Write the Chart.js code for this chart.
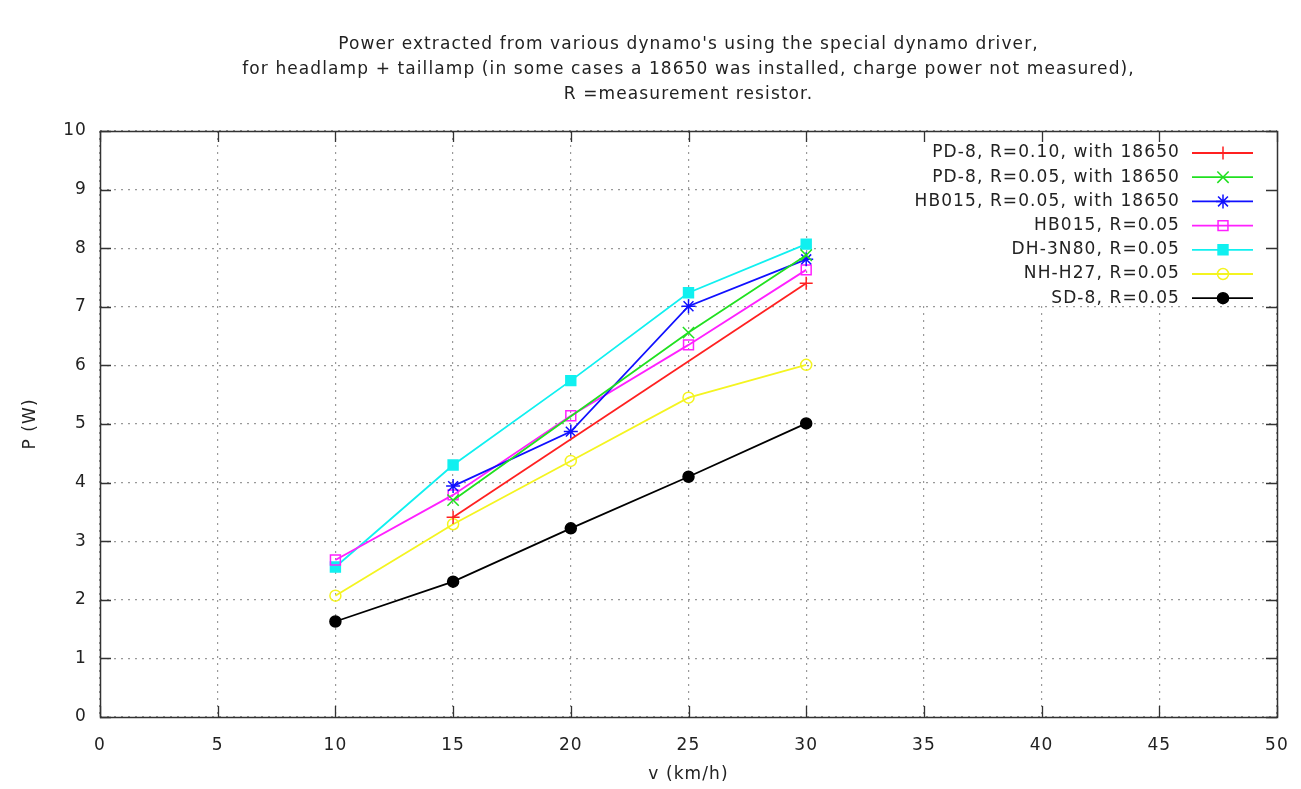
<!DOCTYPE html>
<html>
<head>
<meta charset="utf-8">
<script src="https://cdn.jsdelivr.net/npm/chart.js@4.4.0/dist/chart.umd.min.js"></script>
<style>
  html, body { margin: 0; padding: 0; background: #fff; }
  #wrap { width: 1301px; height: 789px; }
</style>
</head>
<body>
<div id="wrap"><canvas id="c" width="1301" height="789"></canvas></div>
<script>
const titleLines = [
  "Power extracted from various dynamo's using the special dynamo driver,",
  "for headlamp + taillamp (in some cases a 18650 was installed, charge power not measured),",
  "R =measurement resistor."
];
const xTitle = "v (km/h)";
const yTitle = "P (W)";
const speeds = [10, 15, 20, 25, 30];
const labels = [
  "PD-8, R=0.10, with 18650",
  "PD-8, R=0.05, with 18650",
  "HB015, R=0.05, with 18650",
  "HB015, R=0.05",
  "DH-3N80, R=0.05",
  "NH-H27, R=0.05",
  "SD-8, R=0.05"
];
const pd8_010 = [null, 3.41, null, null, 7.40];
const pd8_005 = [null, 3.70, null, 6.56, 7.88];
const hb015_bat = [null, 3.94, 4.87, 7.01, 7.81];
const hb015 = [2.68, 3.79, 5.14, 6.35, 7.63];
const dh3n80 = [2.56, 4.30, 5.74, 7.24, 8.07];
const nhh27 = [2.07, 3.29, 4.37, 5.45, 6.01];
const sd8 = [1.63, 2.31, 3.22, 4.10, 5.01];

const series = [pd8_010, pd8_005, hb015_bat, hb015, dh3n80, nhh27, sd8];
const colors = ['#ff2020', '#20e020', '#1010ff', '#ff20ff', '#10f0f0', '#f4f420', '#000000'];
const styles = ['cross', 'crossRot', 'star', 'rect', 'rect', 'circle', 'circle'];
const filled = [false, false, false, false, true, false, true];
const radii = [6.5, 8, 7, 7, 7, 5.5, 5.5];

const FONT = "'DejaVu Sans', sans-serif";
const SPACING = '1.1px';

const datasets = series.map((vals, i) => ({
  label: labels[i],
  data: speeds.map((s, j) => ({x: s, y: vals[j]})).filter(p => p.y !== null),
  borderColor: colors[i],
  backgroundColor: filled[i] ? colors[i] : 'rgba(0,0,0,0)',
  pointBorderColor: colors[i],
  pointBackgroundColor: filled[i] ? colors[i] : 'rgba(0,0,0,0)',
  pointStyle: styles[i],
  pointRadius: radii[i],
  pointBorderWidth: 1.5,
  borderWidth: 1.8,
  tension: 0,
  fill: false
}));

const gnuplotExtras = {
  id: 'gnuplotExtras',
  beforeLayout(chart) { chart.ctx.letterSpacing = SPACING; },
  beforeDraw(chart) {
    const ctx = chart.ctx;
    ctx.letterSpacing = SPACING;
    const a = chart.chartArea;
    ctx.save();
    ctx.font = '17px ' + FONT;
    ctx.fillStyle = '#222';
    ctx.textAlign = 'center';
    ctx.textBaseline = 'middle';
    titleLines.forEach((t, i) => ctx.fillText(t, (a.left + a.right) / 2, 45 + i * 25));
    ctx.restore();
  },
  beforeDatasetsDraw(chart) {
    const ctx = chart.ctx, a = chart.chartArea;
    ctx.save();
    ctx.fillStyle = '#fff';
    ctx.fillRect(868, a.top, a.right - 868, 303 - a.top);
    ctx.restore();
  },
  afterDatasetsDraw(chart) {
    const ctx = chart.ctx, a = chart.chartArea;
    const xs = chart.scales.x, ys = chart.scales.y;
    ctx.save();
    ctx.strokeStyle = '#333';
    ctx.lineWidth = 1.3;
    const tl = 11;
    ctx.beginPath();
    xs.ticks.forEach(t => {
      const px = Math.round(xs.getPixelForValue(t.value)) + 0.5;
      ctx.moveTo(px, a.bottom); ctx.lineTo(px, a.bottom - tl);
      ctx.moveTo(px, a.top); ctx.lineTo(px, a.top + tl);
    });
    ys.ticks.forEach(t => {
      const py = Math.round(ys.getPixelForValue(t.value)) + 0.5;
      ctx.moveTo(a.left, py); ctx.lineTo(a.left + tl, py);
      ctx.moveTo(a.right, py); ctx.lineTo(a.right - tl, py);
    });
    ctx.stroke();
    ctx.lineWidth = 1.5;
    ctx.strokeRect(Math.round(a.left) + 0.5, Math.round(a.top) + 0.5,
                   Math.round(a.right - a.left), Math.round(a.bottom - a.top));
    ctx.font = '17px ' + FONT;
    ctx.textAlign = 'right';
    ctx.textBaseline = 'middle';
    chart.data.datasets.forEach((ds, i) => {
      const y = 153 + i * 24.2;
      ctx.fillStyle = '#222';
      ctx.fillText(ds.label, 1180, y);
      ctx.strokeStyle = ds.borderColor;
      ctx.lineWidth = 1.8;
      ctx.beginPath();
      ctx.moveTo(1192, y); ctx.lineTo(1253, y);
      ctx.stroke();
      ctx.fillStyle = ds.pointBackgroundColor;
      ctx.strokeStyle = ds.pointBorderColor;
      ctx.lineWidth = 1.5;
      Chart.helpers.drawPoint(ctx, {pointStyle: ds.pointStyle, radius: ds.pointRadius, borderWidth: 1.5, rotation: 0}, 1223, y);
    });
    ctx.restore();
  }
};

new Chart(document.getElementById('c'), {
  type: 'line',
  data: { datasets },
  plugins: [gnuplotExtras],
  options: {
    responsive: false,
    animation: false,
    devicePixelRatio: 1,
    layout: { padding: { left: 0, right: 24, top: 131, bottom: 0 } },
    plugins: {
      legend: { display: false },
      tooltip: { enabled: false },
      title: { display: false }
    },
    scales: {
      x: {
        type: 'linear',
        min: 0, max: 50,
        ticks: { stepSize: 5, color: '#222', font: { family: FONT, size: 17 }, padding: 18, maxRotation: 0 },
        grid: { color: '#999', lineWidth: 1.2, drawTicks: false },
        border: { display: false, dash: [2, 5] },
        title: { display: true, text: xTitle, color: '#222', font: { family: FONT, size: 17 }, padding: { top: 4, bottom: 4 } },
        afterFit(s) { s.height = 72; s.paddingLeft = 12; s.paddingRight = 12; }
      },
      y: {
        type: 'linear',
        min: 0, max: 10,
        ticks: { stepSize: 1, color: '#222', font: { family: FONT, size: 17 }, padding: 13 },
        grid: { color: '#999', lineWidth: 1.2, drawTicks: false },
        border: { display: false, dash: [2, 5] },
        title: { display: true, text: yTitle, color: '#222', font: { family: FONT, size: 17 }, padding: { top: 20, bottom: 0 } },
        afterFit(s) { s.width = 100; s.paddingTop = 0; s.paddingBottom = 0; }
      }
    }
  }
});
</script>
</body>
</html>
